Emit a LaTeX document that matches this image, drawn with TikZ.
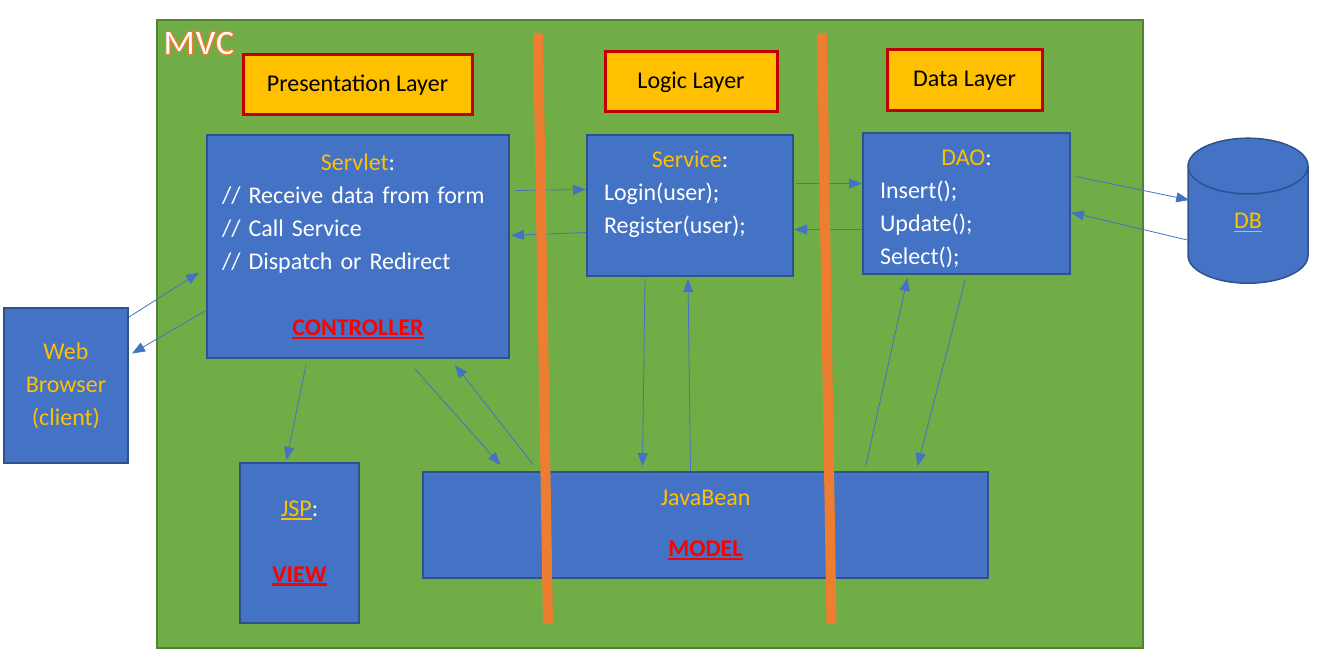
\documentclass[tikz,border=0pt]{standalone}
\usepackage{fontspec}
\setmainfont{Carlito}
\usepackage{tikz}
\usetikzlibrary{arrows.meta, shapes.geometric}
\definecolor{mvcgreen}{HTML}{70AD47}
\definecolor{mvcgreenline}{HTML}{548235}
\definecolor{boxblue}{HTML}{4472C4}
\definecolor{boxline}{HTML}{2F528F}
\definecolor{layergold}{HTML}{FFC000}
\definecolor{layerred}{HTML}{C00000}
\definecolor{barorange}{HTML}{ED7D31}
\definecolor{tagred}{HTML}{FF0000}
\newcommand\undl[2][1.3pt]{\setbox0\hbox{#2}\rlap{\rule[-3.5pt]{\wd0}{#1}}\box0}
\newcommand\gold[1]{\textcolor{layergold}{#1}}
\newcommand\tag[1]{\textcolor{tagred}{\textbf{\undl[2.2pt]{#1}}}}
\newcommand\glow[1]{\textcolor{white}{\special{pdf:code q 2 Tr 1.2 w 0.929 0.490 0.192 RG}#1\special{pdf:code Q}}}

\begin{document}
\begin{tikzpicture}[
        x=1pt, y=-1pt,
        every node/.style={font=\fontsize{24}{33}\selectfont},
        box/.style={draw=boxline, fill=boxblue, line width=2pt, text=white, inner sep=0pt, align=left},
        layer/.style={draw=layerred, fill=layergold, line width=3pt, text=black, inner sep=0pt},
        db/.style={cylinder, shape border rotate=90, aspect=2, draw=boxline, fill=boxblue, line width=1.5pt, inner sep=0pt, text=layergold},
        link/.style={-{Triangle[length=13pt,width=10pt]}, draw=boxblue, line width=0.8pt},
        bar/.style={draw=barorange, line width=10pt}
    ]
    \useasboundingbox (0,0) rectangle (1317,658);
    \node[draw=mvcgreenline, fill=mvcgreen, line width=2pt, minimum width=986pt, minimum height=628pt, inner sep=0pt] (mvc) at (650,334) {};
    \node[font=\fontsize{36}{40}\selectfont\bfseries] (mvclabel) at (199,43) {\glow{MVC}};

    \node[layer, minimum width=229pt, minimum height=60pt] (presentation) at (357.5,85) {Presentation Layer};
    \node[layer, minimum width=172pt, minimum height=60pt] (logic) at (691,82) {Logic Layer};
    \node[layer, minimum width=155pt, minimum height=61pt] (data) at (964.5,80.5) {Data Layer};

    \node[box, minimum width=302pt, minimum height=223pt, text width=272pt] (servlet) at (358,246.5)
        {\makebox[\hsize]{\gold{Servlet}:}\\// Receive data from form\\// Call Service\\// Dispatch or Redirect\\[33pt]\makebox[\hsize]{\tag{CONTROLLER}}};
    \node[box, minimum width=206pt, minimum height=141pt, text width=172pt] (service) at (690,205.5)
        {\makebox[\hsize]{\gold{Service}:}\\Login(user);\\Register(user);\\[-6pt]\mbox{}};
    \node[box, minimum width=207pt, minimum height=141pt, text width=173pt] (dao) at (966.5,203.5)
        {\makebox[\hsize]{\rule{0pt}{27pt}\gold{DAO}:}\\Insert();\\Update();\\Select();};
    \node[box, minimum width=124pt, minimum height=155pt, text width=110pt, align=center, text=layergold] (browser) at (66,385.5)
        {Web\\Browser\\(client)};
    \node[box, minimum width=119pt, minimum height=160pt, text width=105pt, align=center] (jsp) at (299.5,543)
        {\gold{\undl{JSP}}:\\[33pt]\tag{VIEW}};
    \node[box, minimum width=565pt, minimum height=106pt, text width=540pt, align=center] (bean) at (705.5,525)
        {\gold{JavaBean}\\[18pt]\tag{MODEL}};
    \node[db, minimum width=120pt, minimum height=145pt] (db) at (1248,225) {\raisebox{8pt}{\undl{DB}}};

    \draw[link] ([yshift=-10pt]browser.north east) -- ([xshift=-7pt,yshift=-26pt]servlet.west);
    \draw[link] ([yshift=-64pt]servlet.west) -- ([xshift=3pt,yshift=32pt]browser.east);
    \draw[link] ([xshift=5pt,yshift=56pt]servlet.east) -- ([yshift=16pt]service.west);
    \draw[link] ([yshift=-27pt]service.west) -- ([xshift=1pt,yshift=11pt]servlet.east);
    \draw[link] ([xshift=2pt,yshift=22pt]service.east) -- ([yshift=20pt]dao.west);
    \draw[link] ([yshift=-26pt]dao.west) -- ([yshift=-24pt]service.east);
    \draw[link] ([xshift=5pt,yshift=27pt]dao.east) -- ([xshift=2pt,yshift=25pt]db.west);
    \draw[link] ([yshift=-15pt]db.west) -- ([yshift=-9pt]dao.east);
    \draw[link] ([xshift=-52pt,yshift=-6pt]servlet.south) -- ([xshift=-13pt,yshift=2pt]jsp.north);
    \draw[link] ([xshift=57pt,yshift=-10pt]servlet.south) -- ([xshift=-205pt,yshift=6pt]bean.north);
    \draw[link] ([xshift=-172pt,yshift=6pt]bean.north) -- ([xshift=97pt,yshift=-6pt]servlet.south);
    \draw[link] ([xshift=-45pt,yshift=-2pt]service.south) -- ([xshift=-63pt,yshift=5pt]bean.north);
    \draw[link] ([xshift=-15pt]bean.north) -- ([xshift=-2pt,yshift=-2pt]service.south);
    \draw[link] ([xshift=160pt,yshift=4pt]bean.north) -- ([xshift=-59pt,yshift=-3pt]dao.south);
    \draw[link] ([xshift=-1pt,yshift=-4pt]dao.south) -- ([xshift=212pt,yshift=5pt]bean.north);

    \draw[bar] (538,33) -- (548,624);
    \draw[bar] (822,33) -- (831.5,624);
\end{tikzpicture}
\end{document}
